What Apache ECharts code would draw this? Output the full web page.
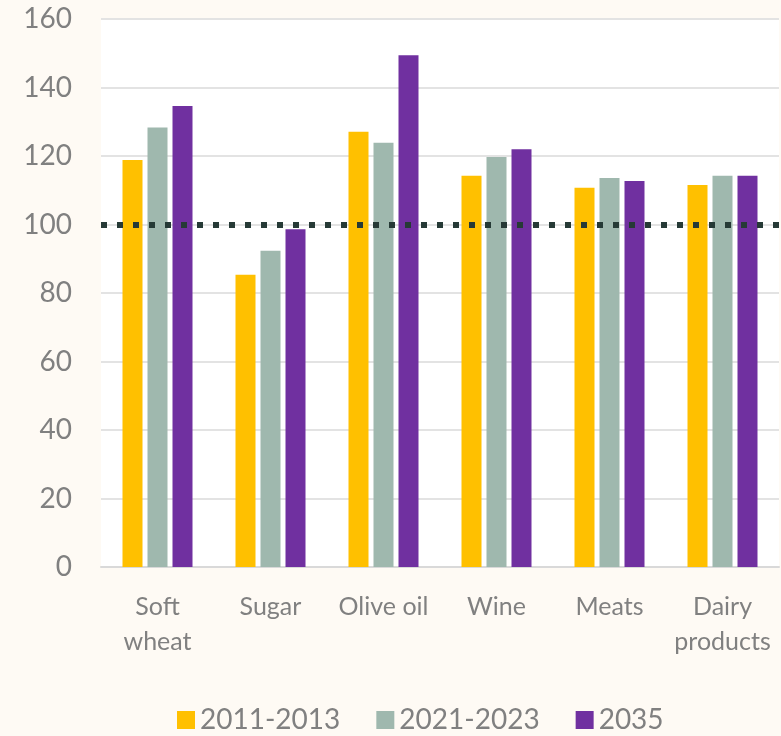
<!DOCTYPE html>
<html>

<head>
  <meta charset="utf-8">
  <script src="https://cdn.jsdelivr.net/npm/echarts@6/dist/echarts.min.js"></script>
  <style>
    html, body { margin: 0; padding: 0; background: #fefaf4; }
    #chart { width: 781px; height: 736px; }
  </style>
</head>

<body>
  <div id="chart"></div>
  <script>
    // categories and series values (index)
    const categories = ['Soft\nwheat', 'Sugar', 'Olive oil', 'Wine', 'Meats', 'Dairy\nproducts']
    const period1 = [118.8, 85.3, 127.1, 114.2, 110.7, 111.5]
    const period2 = [128.3, 92.3, 123.9, 119.7, 113.6, 114.2]
    const period3 = [134.6, 98.6, 149.4, 122.0, 112.7, 114.2]
    const seriesNames = ['2011-2013', '2021-2023', '2035']
    const baseline = 100

    const font = 'Lato, "Open Sans", sans-serif'
    const grey = '#808080'

    const option = {
      backgroundColor: '#fefaf4',
      animation: false,
      color: ['#ffc000', '#9fb8ae', '#7030a0'],
      textStyle: { fontFamily: font },
      grid: {
        left: 101,
        right: 2,
        top: 19,
        bottom: 169,
        show: true,
        backgroundColor: '#ffffff',
        borderWidth: 0
      },
      legend: {
        bottom: -3,
        left: 172,
        itemWidth: 18,
        itemHeight: 18,
        itemGap: 36,
        icon: 'rect',
        textStyle: { color: grey, fontSize: 28, fontFamily: font },
        data: seriesNames
      },
      xAxis: {
        type: 'category',
        data: categories,
        axisTick: { show: false },
        axisLine: { lineStyle: { color: '#d9d9d9', width: 2 } },
        axisLabel: {
          color: grey,
          fontSize: 25,
          lineHeight: 35,
          margin: 22,
          interval: 0
        }
      },
      yAxis: {
        type: 'value',
        min: 0,
        max: 160,
        interval: 20,
        axisLine: { show: false },
        axisTick: { show: false },
        axisLabel: { color: grey, fontSize: 28, margin: 29 },
        splitLine: { lineStyle: { color: '#e3e3e3', width: 2 } }
      },
      series: [
        {
          name: seriesNames[0],
          type: 'bar',
          data: period1,
          barWidth: 20,
          barGap: '25%',
          markLine: {
            symbol: 'none',
            silent: true,
            label: { show: false },
            lineStyle: { color: '#263a36', width: 6, type: [6, 10], cap: 'butt' },
            data: [{ yAxis: baseline }]
          }
        },
        { name: seriesNames[1], type: 'bar', data: period2, barWidth: 20, barGap: '25%' },
        { name: seriesNames[2], type: 'bar', data: period3, barWidth: 20, barGap: '25%' }
      ]
    }

    const chart = echarts.init(document.getElementById('chart'))
    chart.setOption(option)
  </script>
</body>

</html>
